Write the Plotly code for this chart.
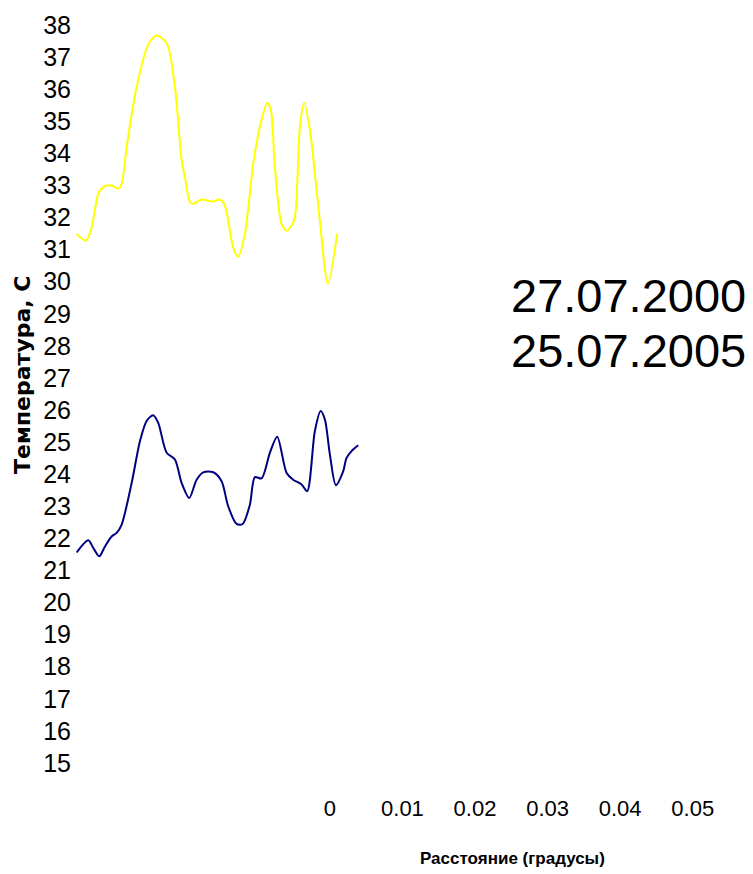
import plotly.graph_objects as go

# Distance (degrees) and temperature (C) for each date
x_2000 = [-0.03489, -0.03361, -0.03282, -0.03191, -0.03123, -0.03007, -0.02916, -0.02869,
          -0.02800, -0.02663, -0.02503, -0.02387, -0.02249, -0.02135, -0.02043, -0.01997,
          -0.01928, -0.01883, -0.01767, -0.01629, -0.01515, -0.01470, -0.01423, -0.01332,
          -0.01263, -0.01171, -0.01056, -0.00964, -0.00864, -0.00817, -0.00758, -0.00665,
          -0.00596, -0.00528, -0.00482, -0.00413, -0.00354, -0.00275, -0.00138, -0.00028,
          0.00101]
t_2000 = [31.49, 31.28, 31.70, 32.74, 32.95, 33.00, 32.90, 33.05,
          34.20, 36.07, 37.38, 37.67, 37.43, 36.07, 33.78, 33.26,
          32.48, 32.43, 32.56, 32.50, 32.56, 32.48, 32.17, 31.07,
          30.78, 31.49, 33.68, 34.82, 35.57, 35.40, 33.57, 31.80,
          31.59, 31.75, 32.00, 34.82, 35.57, 34.72, 31.90, 29.94,
          31.50]

x_2005 = [-0.03489, -0.03329, -0.03260, -0.03178, -0.03099, -0.03007, -0.02938, -0.02869,
          -0.02731, -0.02617, -0.02525, -0.02434, -0.02365, -0.02249, -0.02135, -0.02043,
          -0.01938, -0.01836, -0.01745, -0.01607, -0.01492, -0.01401, -0.01285, -0.01202,
          -0.01102, -0.01033, -0.00941, -0.00826, -0.00726, -0.00596, -0.00506, -0.00390,
          -0.00313, -0.00207, -0.00128, -0.00069, 0.00000, 0.00083, 0.00183, 0.00230,
          0.00299, 0.00390]
t_2005 = [21.56, 21.94, 21.70, 21.44, 21.75, 22.06, 22.17, 22.43,
          23.73, 25.03, 25.66, 25.84, 25.60, 24.67, 24.46, 23.73,
          23.26, 23.83, 24.06, 24.06, 23.78, 23.00, 22.45, 22.45,
          23.05, 23.91, 23.87, 24.67, 25.17, 24.04, 23.83, 23.68,
          23.47, 25.34, 25.97, 25.71, 24.62, 23.66, 24.09, 24.51,
          24.72, 24.90]

x_ticks = [0, 0.01, 0.02, 0.03, 0.04, 0.05]
x_tick_labels = ["0", "0.01", "0.02", "0.03", "0.04", "0.05"]
y_ticks = list(range(15, 39))
series_names = ["27.07.2000", "25.07.2005"]

NARROW = "Liberation Sans Narrow, Liberation Sans, sans-serif"
ARIAL = "Liberation Sans, Arial, sans-serif"

# The page body has an 8px margin, so the figure is drawn 8px in from the corner.
OFF = 8
W, H = 753 - OFF, 874 - OFF
ML, MT = 75 - OFF, 25 - OFF
MR = W - (729 - OFF)
MB = H - (763 - OFF)
PW, PH = W - ML - MR, H - MT - MB


def px(xp):
    return (xp - OFF - ML) / PW


def py(yp):
    return 1 - (yp - OFF - MT) / PH


fig = go.Figure()
fig.add_trace(go.Scatter(x=x_2000, y=t_2000, mode="lines", name=series_names[0],
                         line=dict(color="#FFFF00", width=2, shape="spline", smoothing=0.8),
                         showlegend=False))
fig.add_trace(go.Scatter(x=x_2005, y=t_2005, mode="lines", name=series_names[1],
                         line=dict(color="#000080", width=2, shape="spline", smoothing=0.8),
                         showlegend=False))

# Legend text (the original shows only the labels)
for name, yp in zip(series_names, [295, 350]):
    fig.add_annotation(x=px(748), y=py(yp), xref="paper", yref="paper", text=name,
                       showarrow=False, xanchor="right", yanchor="middle",
                       font=dict(family=ARIAL, size=47, color="black"))

# Axis titles
fig.add_annotation(x=px(22), y=py(375), xref="paper", yref="paper",
                   text="<b>Температура, С</b>", textangle=-90, showarrow=False,
                   xanchor="center", yanchor="middle",
                   font=dict(family="DejaVu Sans, sans-serif", size=22, color="black"))
fig.add_annotation(x=px(512), y=py(858), xref="paper", yref="paper",
                   text="<b>Расстояние (градусы)</b>", showarrow=False,
                   xanchor="center", yanchor="middle",
                   font=dict(family=NARROW, size=17, color="black"))

fig.update_layout(
    width=W, height=H,
    margin=dict(l=ML, r=MR, t=MT, b=MB),
    paper_bgcolor="white", plot_bgcolor="white",
    xaxis=dict(range=[-0.03512, 0.055], tickvals=x_ticks, ticktext=x_tick_labels,
               showgrid=False, zeroline=False, showline=False, ticks="",
               automargin=False, ticklabelstandoff=30,
               tickfont=dict(family=NARROW, size=22, color="black")),
    yaxis=dict(range=[15, 38], tickvals=y_ticks, showgrid=False, zeroline=False,
               showline=False, ticks="", automargin=False, ticklabelstandoff=3,
               tickfont=dict(family=NARROW, size=25, color="black")),
)

fig.write_html("out.html")
